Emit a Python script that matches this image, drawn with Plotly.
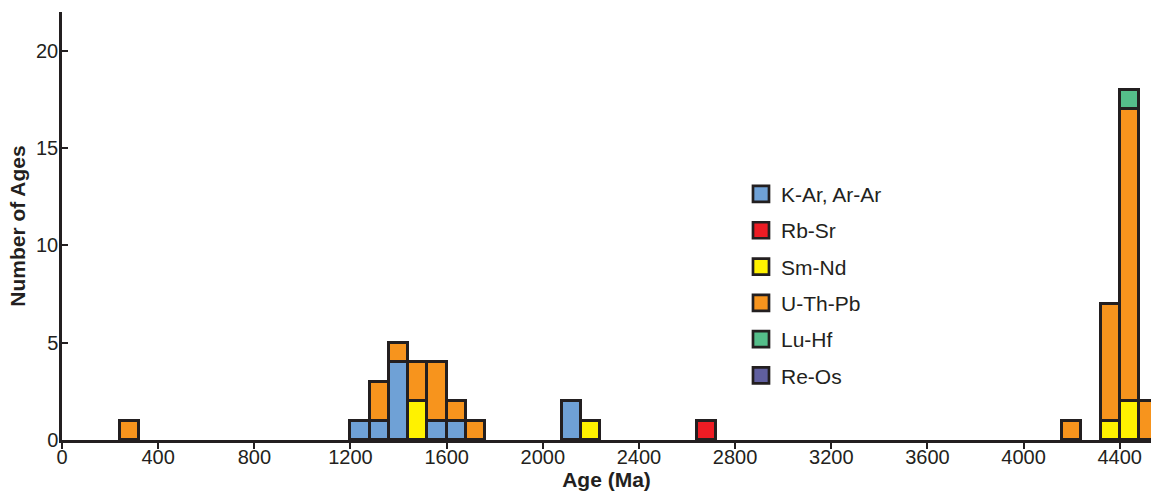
import plotly.graph_objects as go

# 80-Ma age bins (bin centres, Ma)
bin_mid = [280, 1240, 1320, 1400, 1480, 1560, 1640, 1720, 2120, 2200, 2680, 4200, 4360, 4440, 4520]

# counts per dating method in each bin (stacked bottom -> top)
k_ar_ar = [0, 1, 1, 4, 0, 1, 1, 0, 2, 0, 0, 0, 0, 0, 0]
rb_sr   = [0, 0, 0, 0, 0, 0, 0, 0, 0, 0, 1, 0, 0, 0, 0]
sm_nd   = [0, 0, 0, 0, 2, 0, 0, 0, 0, 1, 0, 0, 1, 2, 0]
u_th_pb = [1, 0, 2, 1, 2, 3, 1, 1, 0, 0, 0, 1, 6, 15, 2]
lu_hf   = [0, 0, 0, 0, 0, 0, 0, 0, 0, 0, 0, 0, 0, 1, 0]
re_os   = [0, 0, 0, 0, 0, 0, 0, 0, 0, 0, 0, 0, 0, 0, 0]

series_names = ["K-Ar, Ar-Ar", "Rb-Sr", "Sm-Nd", "U-Th-Pb", "Lu-Hf", "Re-Os"]
series_vals = [k_ar_ar, rb_sr, sm_nd, u_th_pb, lu_hf, re_os]
colors = ["#6FA1D6", "#ED1C24", "#FFF200", "#F7941D", "#55BD8A", "#605F9F"]

x_ticks = [0, 400, 800, 1200, 1600, 2000, 2400, 2800, 3200, 3600, 4000, 4400]
y_ticks = [0, 5, 10, 15, 20]

INK = "#231F20"
FONT = "Liberation Sans, Arial, sans-serif"

fig = go.Figure()
for name, vals, col in zip(series_names, series_vals, colors):
    yv = [v if v else None for v in vals]
    fig.add_trace(go.Bar(
        x=bin_mid, y=yv, width=80, name=name, showlegend=False,
        marker=dict(color=col, line=dict(color=INK, width=2.7)),
    ))
for i, (name, col) in enumerate(zip(series_names, colors)):
    fig.add_trace(go.Scatter(
        x=[None], y=[None], mode="markers", name=name, legendgroup=f"g{i}",
        marker=dict(symbol="square", size=16, color=col, line=dict(color=INK, width=2.7)),
    ))

fig.update_layout(
    barmode="stack",
    bargap=0,
    width=1151, height=493,
    margin=dict(l=62, r=0, t=12, b=53),
    paper_bgcolor="white", plot_bgcolor="white",
    font=dict(family=FONT, size=20, color=INK),
    legend=dict(
        x=0.6235, y=0.622, xanchor="left", yanchor="top",
        bgcolor="rgba(0,0,0,0)", borderwidth=0,
        font=dict(family=FONT, size=21, color=INK),
        tracegroupgap=6,
    ),
    xaxis=dict(
        range=[0, 4530], tickmode="array", tickvals=x_ticks,
        showline=True, linecolor=INK, linewidth=2.5,
        ticks="outside", ticklen=6, tickwidth=2, tickcolor=INK,
        ticklabelstandoff=-9,
        tickfont=dict(family=FONT, size=20, color=INK),
        showgrid=False, zeroline=False,
        title=dict(text="<b>Age (Ma)</b>", font=dict(family=FONT, size=21, color=INK), standoff=1),
    ),
    yaxis=dict(
        range=[0, 22], tickmode="array", tickvals=y_ticks,
        showline=True, linecolor=INK, linewidth=2.5,
        ticks="inside", ticklen=6, tickwidth=2, tickcolor=INK,
        ticklabelstandoff=-3,
        tickfont=dict(family=FONT, size=20, color=INK),
        showgrid=False, zeroline=False,
        title=dict(text="<b>Number of Ages</b>", font=dict(family=FONT, size=21, color=INK), standoff=5),
    ),
)

fig.write_html("out.html")
